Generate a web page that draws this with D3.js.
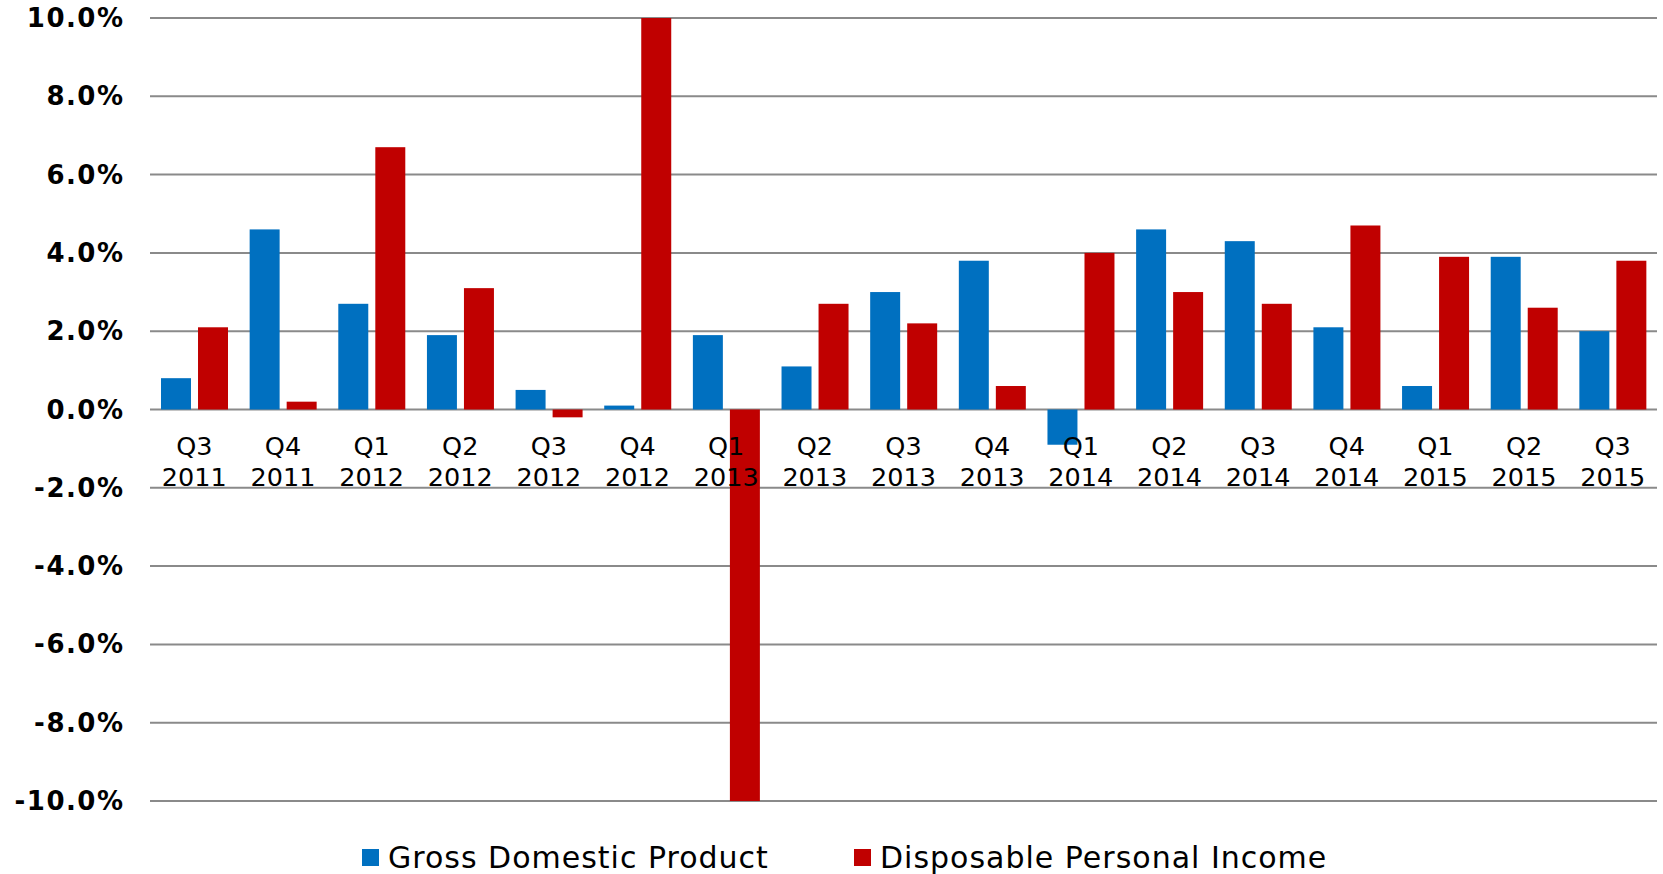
<!DOCTYPE html>
<html>
<head>
<meta charset="utf-8">
<script src="https://cdn.jsdelivr.net/npm/d3@7"></script>
<style>
  html, body { margin: 0; padding: 0; background: #fff; }
  svg { display: block; }
</style>
</head>
<body>
<svg id="chart" width="1663" height="874"></svg>
<script>
const quarters = ["Q3","Q4","Q1","Q2","Q3","Q4","Q1","Q2","Q3","Q4","Q1","Q2","Q3","Q4","Q1","Q2","Q3"];
const years    = ["2011","2011","2012","2012","2012","2012","2013","2013","2013","2013","2014","2014","2014","2014","2015","2015","2015"];
const categories = quarters.map((q, i) => q + " " + years[i]);
const gdp = [0.8, 4.6, 2.7, 1.9, 0.5, 0.1, 1.9, 1.1, 3.0, 3.8, -0.9, 4.6, 4.3, 2.1, 0.6, 3.9, 2.0];
const dpi = [2.1, 0.2, 6.7, 3.1, -0.2, 10.0, -10.0, 2.7, 2.2, 0.6, 4.0, 3.0, 2.7, 4.7, 3.9, 2.6, 3.8];
const seriesNames = ["Gross Domestic Product", "Disposable Personal Income"];
const yTicks = [-10, -8, -6, -4, -2, 0, 2, 4, 6, 8, 10];

const colors = ["#0070C0", "#C00000"];
const svg = d3.select("#chart");

const plotLeft = 150, plotRight = 1657, plotTop = 18, plotBottom = 801;

const x0 = d3.scaleBand().domain(categories).range([plotLeft, plotRight]).padding(0);
const x1 = d3.scaleBand().domain([0, 1]).range([11, 78]).paddingInner(0.19).paddingOuter(0);
const y = d3.scaleLinear().domain([-10, 10]).range([plotBottom, plotTop]);

// gridlines
svg.append("g").selectAll("line").data(yTicks).join("line")
  .attr("x1", plotLeft).attr("x2", plotRight)
  .attr("y1", d => y(d)).attr("y2", d => y(d))
  .attr("stroke", "#8a8a8a").attr("stroke-width", 2);

// y axis labels
svg.append("g").selectAll("text").data(yTicks).join("text")
  .attr("x", 124.5).attr("y", d => y(d))
  .attr("text-anchor", "end").attr("dominant-baseline", "central")
  .attr("font-family", "DejaVu Sans").attr("font-weight", "bold")
  .attr("font-size", 26).attr("letter-spacing", "1.5px").attr("fill", "#000")
  .text(d => d.toFixed(1) + "%");

// bars
const series = [gdp, dpi];
series.forEach((vals, s) => {
  svg.append("g").selectAll("rect").data(vals).join("rect")
    .attr("x", (d, i) => x0(categories[i]) + x1(s))
    .attr("width", x1.bandwidth())
    .attr("y", d => y(Math.max(0, d)))
    .attr("height", d => Math.abs(y(d) - y(0)))
    .attr("fill", colors[s]);
});

// category labels
const cl = svg.append("g").selectAll("text").data(categories).join("text")
  .attr("font-family", "DejaVu Sans").attr("font-size", 25.5).attr("fill", "#000")
  .attr("text-anchor", "middle");
cl.append("tspan")
  .attr("x", d => x0(d) + x0.bandwidth() / 2).attr("y", 445.5)
  .attr("dominant-baseline", "central")
  .text((d, i) => quarters[i]);
cl.append("tspan")
  .attr("x", d => x0(d) + x0.bandwidth() / 2).attr("y", 477.3)
  .attr("dominant-baseline", "central")
  .text((d, i) => years[i]);

// legend
const legendX = [362, 854];
const lg = svg.append("g").selectAll("g").data(seriesNames).join("g");
lg.append("rect")
  .attr("x", (d, i) => legendX[i]).attr("y", 849)
  .attr("width", 17).attr("height", 17)
  .attr("fill", (d, i) => colors[i]);
lg.append("text")
  .attr("x", (d, i) => legendX[i] + 26).attr("y", 857)
  .attr("dominant-baseline", "central")
  .attr("font-family", "DejaVu Sans").attr("font-size", 30).attr("letter-spacing", "1px")
  .attr("fill", "#000")
  .text(d => d);
</script>
</body>
</html>
